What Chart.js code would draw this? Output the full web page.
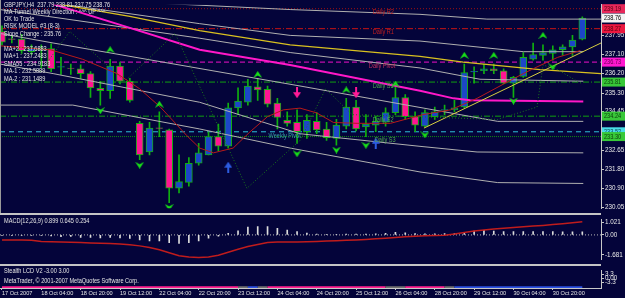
<!DOCTYPE html>
<html><head><meta charset="utf-8">
<script src="https://cdn.jsdelivr.net/npm/chart.js@4.4.1/dist/chart.umd.min.js"></script>
<style>
body{margin:0;background:#04043a;}
#wrap{position:relative;width:625px;height:298px;overflow:hidden;background:#04043a;}
#wrap canvas{position:absolute;left:0;}
.sep{position:absolute;left:0;width:601px;height:2px;background:#c4c4c4;}
.vline{position:absolute;left:0;top:0;width:1px;height:213px;background:#9a9a9a;}
</style></head><body>
<div id="wrap">
<canvas id="main" width="625" height="213" style="top:0"></canvas>
<div class="vline"></div>
<div class="sep" style="top:213px"></div>
<canvas id="macd" width="625" height="49" style="top:215px"></canvas>
<div class="sep" style="top:264px"></div>
<canvas id="lcd" width="625" height="32" style="top:266px"></canvas>
</div>
<script>
// GBPJPY H4, 60 bars
var opens  = [238.14,237.80,237.79,237.21,237.30,237.35,236.50,236.45,236.42,236.20,235.52,235.41,236.55,235.85,233.91,232.59,233.70,233.61,230.92,231.19,
              232.07,232.46,233.30,232.86,234.62,234.88,235.59,235.48,234.84,234.05,233.96,233.52,234.00,233.65,233.21,233.78,234.66,233.74,233.83,233.96,
              234.40,235.10,234.22,233.78,234.22,234.52,234.53,234.66,236.28,236.33,236.42,236.33,235.76,236.07,236.86,237.04,237.13,237.30,237.43,237.79];
var highs  = [238.40,237.92,238.01,237.52,237.52,237.57,236.95,236.64,236.60,236.29,235.85,236.86,236.73,235.98,234.00,233.96,234.44,233.65,232.46,232.33,
              232.99,233.52,233.87,234.84,235.54,235.94,235.98,235.63,235.06,234.44,234.53,234.31,234.40,233.96,234.09,235.06,234.97,234.31,234.22,234.62,
              235.63,235.23,234.44,234.53,234.66,234.75,234.97,236.64,236.51,236.64,236.64,236.42,236.07,237.17,237.61,237.52,237.48,237.52,237.96,238.81];
var lows   = [237.52,237.61,237.13,237.08,236.47,236.29,236.16,236.16,235.98,235.10,234.75,235.06,235.72,234.88,232.24,232.46,233.30,230.26,230.70,231.01,
              231.98,232.46,232.64,232.77,234.31,234.75,234.97,234.66,233.65,233.78,232.99,233.21,233.43,233.12,232.90,233.65,233.56,233.30,233.52,233.78,
              234.31,234.09,233.52,233.74,234.09,234.31,234.44,234.62,235.76,236.20,236.20,235.72,235.10,236.03,236.82,236.82,236.82,237.04,237.04,237.75];
var closes = [237.65,237.78,237.26,237.39,237.35,236.42,236.52,236.44,236.20,235.54,235.41,236.55,235.85,234.97,232.46,233.69,233.68,230.92,231.23,232.07,
              232.55,233.30,232.86,234.62,234.93,235.63,235.45,234.79,234.18,233.91,233.52,234.05,233.61,233.25,233.83,234.66,233.65,233.87,234.00,234.40,
              235.10,234.22,233.83,234.40,234.44,234.54,234.62,236.25,236.30,236.42,236.33,235.76,236.03,236.95,237.08,237.17,237.30,237.43,237.74,238.76];

var xLabels = ['17 Oct 2007','18 Oct 04:00','18 Oct 20:00','19 Oct 12:00','22 Oct 04:00','22 Oct 20:00','23 Oct 12:00','24 Oct 04:00',
               '24 Oct 20:00','25 Oct 12:00','26 Oct 04:00','28 Oct 20:00','29 Oct 12:00','30 Oct 04:00','30 Oct 20:00'];
var xLabelBars = [0,4,8,12,16,20,24,28,32,36,40,44,48,52,56];
var priceTicks = [237.95,237.10,236.20,235.30,234.45,232.65,231.80,230.90,230.05];

// pivot levels
var levelNames  = ['Daily R2','Daily R1','Daily Pivot','Daily S1','Daily S2','Weekly Pivot','Daily S3'];
var levelValues = [239.19,238.27,236.73,235.81,234.24,233.52,233.30];
var levelLabelBars = [37.7,37.7,37.3,37.7,37.7,27.1,37.9];

// tunnel / moving average lines (bar index, price)
var grayABars = [15.1,29.3,42.5,49.3,60.9];            var grayA = [239.46,239.15,238.93,238.71,238.71];
var maPlus1Bars = [-0.2,10,20.1,29.3,42.5,53,59.1];     var maPlus1 = [239.81,239.15,238.50,237.96,237.70,237.21,237.21];
var grayBBars = [-0.2,10,20.1,29.3,42.5,48.6,59.1];     var grayB = [239.15,238.49,237.83,237.17,236.46,235.94,235.85];
var sma55Bars = [-0.2,11.7,20.1,29.3,42.5,45.9,47.6,59.1]; var sma55 = [240.16,238.49,237.30,236.60,235.41,235.06,234.97,234.92];
var grayCBars = [-0.2,5.2,30.3,50.4,59.1];              var grayC = [238.05,237.61,235.63,234.00,234.00];
var maMinus1Bars = [-0.2,5.2,20.1,30.3,42.5,48.3,59.1]; var maMinus1 = [236.64,236.20,234.88,233.43,232.85,232.59,232.55];
var maMinus2Bars = [-0.2,7.2,20.1,29.3,42.5,50.4,59.1]; var maMinus2 = [234.75,234.75,233.65,232.77,231.67,231.18,231.14];
var yellowBars = [2.8,13,20.1,29.3,42.5,46.9,54.7,60.9]; var yellowMA = [239.63,238.84,238.18,237.52,236.99,236.73,236.38,236.20];
var trendBars = [42.9,60.9];                             var trendLine = [233.69,237.61];
var redMABars = [-0.2,4.9,8.2,11.7,14,16.1,18.8,20.1,21.5,23.5,25.2,27,28.6,30.3,32,33.7,36.1,39.5,42.8,45.6,48.3,51,53,54.4,56.5,58.8];
var redMA = [237.48,237.30,236.86,236.20,235.50,234.66,233.34,232.77,232.55,232.77,233.51,234.22,234.53,234.61,234.39,233.95,233.91,233.91,
             234.31,234.53,235.06,235.72,236.20,236.51,236.95,237.26];
var zigBars = [3.9,6.9,12.5,17.6,24.9,30.3,32.9,35.6,50.4,54.4,55.0,56.5,58.8];
var zigzag  = [236.29,238.14,235.85,238.05,230.92,233.12,235.50,234.31,234.09,234.66,236.60,236.38,235.76];

// signal arrows
var upMarkBars = [11,16,26,35,40,47,50,55];
var upMarkPrices = [237.30,234.79,236.16,235.45,235.72,237.04,237.04,237.96];
var downMarkBars = [10,14,17,30,34,37,43,52,56];
var downMarkPrices = [234.49,231.98,230.04,232.51,232.68,232.90,233.38,234.93,236.51];
var sellArrowBars = [30,36];  var sellArrowPrices = [235.32,235.32];
var buyArrowBars = [23,38];   var buyArrowPrices = [231.89,232.99];

// MACD panel
var macdHist = [-0.03,-0.03,-0.03,-0.03,-0.05,-0.08,-0.15,-0.12,-0.2,-0.2,-0.25,-0.2,-0.25,-0.3,-0.43,-0.5,-0.5,-0.65,-0.72,-0.65,
                -0.5,-0.27,-0.1,0.13,0.35,0.65,0.7,0.7,0.55,0.4,0.27,0.15,0.08,0.05,0.05,0.07,0.07,0.07,0.09,0.13,
                0.22,0.18,0.11,0.09,0.09,0.11,0.11,0.22,0.33,0.38,0.33,0.29,0.29,0.29,0.29,0.29,0.29,0.25,0.25,0.25];
var macdSignal = [-0.42,-0.42,-0.43,-0.45,-0.55,-0.57,-0.6,-0.62,-0.64,-0.67,-0.69,-0.72,-0.76,-0.82,-0.92,-1.05,-1.25,-1.5,-1.75,-1.86,
                  -1.89,-1.85,-1.7,-1.45,-1.2,-0.98,-0.8,-0.63,-0.6,-0.6,-0.59,-0.57,-0.55,-0.52,-0.49,-0.45,-0.42,-0.38,-0.33,-0.28,
                  -0.22,-0.16,-0.12,-0.08,-0.05,-0.02,0.08,0.2,0.32,0.42,0.5,0.56,0.62,0.68,0.74,0.8,0.87,0.94,1.02,1.1];
var macdTicks = [1.021,0,-1.681];
var macdTickText = ['1.021','0.00','-1.681'];

// Stealth LCD panel: 1 up, -1 down, 0 neutral
var lcdState = [-1,-1,-1,-1,-1,-1,-1,-1,-1,-1,-1,-1,-1,-1,-1,-1,-1,-1,-1,-1,-1,-1,-1,-1,0,1,0,-1,-1,-1,
                -1,-1,-1,-1,-1,-1,-1,-1,-1,0,0,-1,-1,-1,-1,0,1,1,1,1,1,1,1,1,1,1,1,1,1,1];
var lcdValue = -6.9;
var lcdTicks = [3.3,0,-3.3];
var lcdTickText = ['3.3','0.00','-3.3'];

var infoLines = ['GBPJPY,H4  237.79 238.81 237.75 238.76','MA Tunnel Weekly Direction : ^^^ UP ^^^','OK to Trade','RISK MODEL #3 (8-3)',
                 'Slope Change : 235.76','','MA+2 : 237.6883','MA+1 : 237.2483','SMA55 : 234.9183','MA-1 : 232.5889','MA-2 : 231.1489'];

// ---------- styling ----------
var X_MIN = -0.2, X_MAX = 60.9;
var FONT = '"Liberation Sans", Arial, sans-serif';
var axisFont = {family: FONT, size: 6};
var infoY = [5, 12.7, 19.3, 26.7, 34, 0, 49.3, 56.7, 64.3, 71, 79];
var levelStyle = [
  {line:'#a01010', dash:[1,2], text:'#c02020', box:'#e8285a', boxText:'#500010'},
  {line:'#c81414', dash:[6,2,1,2], text:'#c02020', box:'#ec1840', boxText:'#500010'},
  {line:'#f010c8', dash:[5,3], text:'#c83060', box:'#ff18d0', boxText:'#600050'},
  {line:'#10a010', dash:[6,2,1,2], text:'#50a850', box:'#38c838', boxText:'#0c400c'},
  {line:'#10a010', dash:[6,2,1,2], text:'#50a850', box:'#38c838', boxText:'#0c400c'},
  {line:'#30c0d8', dash:[5,4], text:'#38a0a8', box:'#48dce8', boxText:'#0c4050'},
  {line:'#108a10', dash:[1,1], text:'#50a850', box:'#38c838', boxText:'#0c400c'}
];

function pts(bars, vals) { return bars.map(function (b, i) { return {x: b, y: vals[i]}; }); }

// narrow text, like the terminal's small font
function say(ctx, t, x, y) {
  ctx.save(); ctx.translate(x, y); ctx.scale(0.86, 1); ctx.fillText(t, 0, 0); ctx.restore();
}

function rightAxis(min, max, ticks, fmt) {
  return {
    position: 'right', min: min, max: max,
    afterFit: function (s) { s.width = 24; },
    afterBuildTicks: function (s) { s.ticks = ticks.map(function (v) { return {value: v}; }); },
    grid: {drawOnChartArea: false, color: '#c8c8c8', tickLength: 3},
    border: {color: '#c8c8c8'},
    ticks: {color: '#e8e8e8', font: {family: FONT, size: 6.3}, padding: 1, autoSkip: false, callback: fmt}
  };
}
function hiddenX() { return {type: 'linear', min: X_MIN, max: X_MAX, offset: false, display: false}; }

function icon(w, h, draw) {
  var c = document.createElement('canvas'); c.width = w; c.height = h;
  draw(c.getContext('2d')); return c;
}
var upChevron = icon(9, 7, function (g) {
  g.fillStyle = '#18e018'; g.beginPath(); g.moveTo(4.5,0); g.lineTo(9,7); g.lineTo(4.5,4.5); g.lineTo(0,7); g.closePath(); g.fill();
});
var downChevron = icon(9, 7, function (g) {
  g.fillStyle = '#18e018'; g.beginPath(); g.moveTo(4.5,7); g.lineTo(9,0); g.lineTo(4.5,2.5); g.lineTo(0,0); g.closePath(); g.fill();
});
var sellArrow = icon(8, 11, function (g) {
  g.fillStyle = '#ff1a96'; g.fillRect(3,0,2,6); g.beginPath(); g.moveTo(0,5); g.lineTo(8,5); g.lineTo(4,11); g.closePath(); g.fill();
});
var buyArrow = icon(8, 11, function (g) {
  g.fillStyle = '#2c5ce0'; g.fillRect(3,5,2,6); g.beginPath(); g.moveTo(0,6); g.lineTo(8,6); g.lineTo(4,0); g.closePath(); g.fill();
});

function lineDs(data, color, width, dash, order) {
  return {type: 'line', data: data, borderColor: color, borderWidth: width, borderDash: dash || [],
          pointRadius: 0, tension: 0, fill: false, order: order};
}
function markDs(bars, prices, img) {
  return {type: 'scatter', data: pts(bars, prices), pointStyle: img, pointRadius: 5, order: 1};
}

// ---------- main price chart ----------
var bodyColors = closes.map(function (c, i) { return c >= opens[i] ? '#1c46c8' : '#ff1493'; });
var mainDatasets = [];
levelValues.forEach(function (v, i) {
  mainDatasets.push(lineDs([{x: X_MIN, y: v}, {x: X_MAX, y: v}], levelStyle[i].line, 1, levelStyle[i].dash, 60));
});
mainDatasets.push({type: 'bar', data: lows.map(function (l, i) { return {x: i, y: [l, highs[i]]}; }),
  backgroundColor: '#10b010', barThickness: 1, grouped: false, order: 40});
mainDatasets.push({type: 'bar', data: opens.map(function (o, i) { return {x: i, y: [o, closes[i]]}; }),
  backgroundColor: bodyColors, borderColor: '#10b010', borderWidth: 1, borderSkipped: false, barThickness: 7, grouped: false, order: 35});
mainDatasets.push(lineDs(pts(grayABars, grayA), '#b0b0b0', 1, null, 20));
mainDatasets.push(lineDs(pts(maPlus1Bars, maPlus1), '#b0b0b0', 1, null, 20));
mainDatasets.push(lineDs(pts(grayBBars, grayB), '#b0b0b0', 1, null, 20));
mainDatasets.push(lineDs(pts(grayCBars, grayC), '#b0b0b0', 1, null, 20));
mainDatasets.push(lineDs(pts(maMinus1Bars, maMinus1), '#b0b0b0', 1, null, 20));
mainDatasets.push(lineDs(pts(maMinus2Bars, maMinus2), '#b0b0b0', 1, null, 20));
mainDatasets.push(lineDs(pts(yellowBars, yellowMA), '#d8c020', 1.3, null, 18));
mainDatasets.push(lineDs(pts(sma55Bars, sma55), '#ff18c8', 2, null, 17));
mainDatasets.push(lineDs(pts(trendBars, trendLine), '#d8d040', 1, null, 16));
mainDatasets.push(lineDs(pts(zigBars, zigzag), '#1c7a1c', 1, [1,2], 15));
mainDatasets.push(lineDs(pts(redMABars, redMA), '#b81a1a', 1, null, 14));
mainDatasets.push(markDs(upMarkBars, upMarkPrices, upChevron));
mainDatasets.push(markDs(downMarkBars, downMarkPrices, downChevron));
mainDatasets.push(markDs(sellArrowBars, sellArrowPrices, sellArrow));
mainDatasets.push(markDs(buyArrowBars, buyArrowPrices, buyArrow));

var mainOverlay = {
  id: 'mainOverlay',
  afterDraw: function (chart) {
    var ctx = chart.ctx, xs = chart.scales.x, ys = chart.scales.y;
    ctx.save();
    ctx.font = '6.5px ' + FONT;
    ctx.textBaseline = 'middle';
    ctx.fillStyle = '#e4e4e4';
    infoLines.forEach(function (t, k) { if (t) say(ctx, t, 4, infoY[k]); });
    levelNames.forEach(function (name, i) {
      ctx.fillStyle = levelStyle[i].text;
      say(ctx, name, xs.getPixelForValue(levelLabelBars[i]), ys.getPixelForValue(levelValues[i]) + 4);
    });
    // price boxes on the axis
    var boxes = levelValues.map(function (v, i) { return {v: v, bg: levelStyle[i].box, fg: levelStyle[i].boxText}; });
    boxes.push({v: closes[closes.length - 1], bg: '#f4f4f4', fg: '#000000'});
    boxes.forEach(function (b) {
      var y = ys.getPixelForValue(b.v);
      ctx.fillStyle = b.bg; ctx.fillRect(602, y - 4.5, 23, 9);
      ctx.fillStyle = b.fg; say(ctx, b.v.toFixed(2), 604, y + 0.5);
    });
    ctx.restore();
  }
};

new Chart(document.getElementById('main'), {
  type: 'bar',
  data: {datasets: mainDatasets},
  options: {
    responsive: false, animation: false, events: [],
    layout: {padding: 0, autoPadding: false},
    plugins: {legend: {display: false}, tooltip: {enabled: false}},
    scales: {
      x: hiddenX(),
      y: rightAxis(230.0, 239.37, priceTicks, function (v) { return v.toFixed(2); })
    }
  },
  plugins: [mainOverlay]
});

// ---------- MACD ----------
var macdOverlay = {
  id: 'macdOverlay',
  afterDraw: function (chart) {
    var ctx = chart.ctx; ctx.save();
    ctx.font = '6.5px ' + FONT; ctx.textBaseline = 'middle'; ctx.fillStyle = '#e4e4e4';
    say(ctx, 'MACD(12,26,9) 0.899 0.645 0.254', 4, 6.7);
    ctx.restore();
  }
};
new Chart(document.getElementById('macd'), {
  type: 'bar',
  data: {datasets: [
    lineDs([{x: X_MIN, y: 0}, {x: X_MAX, y: 0}], '#b8b8b8', 1, [1,2], 30),
    {type: 'bar', data: macdHist.map(function (v, i) { return {x: i, y: v}; }), backgroundColor: '#dcdcdc',
     barThickness: 1, grouped: false, order: 20},
    lineDs(macdSignal.map(function (v, i) { return {x: i, y: v}; }), '#c01c1c', 1.5, null, 10)
  ]},
  options: {
    responsive: false, animation: false, events: [],
    layout: {padding: 0, autoPadding: false},
    plugins: {legend: {display: false}, tooltip: {enabled: false}},
    scales: {
      x: hiddenX(),
      y: rightAxis(-2.04, 1.27, macdTicks, function (v) { return macdTickText[macdTicks.indexOf(v)]; })
    }
  },
  plugins: [macdOverlay]
});

// ---------- Stealth LCD + time axis ----------
var lcdColor = function (s) { return s > 0 ? '#2c50e0' : (s < 0 ? '#ff2090' : '#707070'); };
var lcdOverlay = {
  id: 'lcdOverlay',
  afterDraw: function (chart) {
    var ctx = chart.ctx; ctx.save();
    ctx.font = '6.5px ' + FONT; ctx.textBaseline = 'middle'; ctx.fillStyle = '#e4e4e4';
    say(ctx, 'Stealth LCD V2 -3.00 3.00', 4, 5.7);
    say(ctx, 'MetaTrader, \u00a9 2001-2007 MetaQuotes Software Corp.', 4, 15.7);
    ctx.restore();
  }
};
new Chart(document.getElementById('lcd'), {
  type: 'line',
  data: {datasets: [{
    data: lcdState.map(function (s, i) { return {x: i, y: lcdValue}; }),
    borderWidth: 2, pointRadius: 0, tension: 0,
    segment: {borderColor: function (c) { return lcdColor(lcdState[c.p0DataIndex]); }}
  }]},
  options: {
    responsive: false, animation: false, events: [],
    layout: {padding: 0, autoPadding: false},
    plugins: {legend: {display: false}, tooltip: {enabled: false}},
    scales: {
      x: {
        type: 'linear', min: X_MIN, max: X_MAX, offset: false, position: 'bottom',
        afterFit: function (s) { s.height = 10; },
        afterBuildTicks: function (s) { s.ticks = xLabelBars.map(function (v) { return {value: v}; }); },
        grid: {drawOnChartArea: false, color: '#c8c8c8', tickLength: 2},
        border: {color: '#c8c8c8'},
        ticks: {color: '#e4e4e4', font: {family: FONT, size: 5.6}, padding: 0, align: 'start', maxRotation: 0, autoSkip: false,
                callback: function (v) { return xLabels[xLabelBars.indexOf(v)]; }}
      },
      y: rightAxis(-7.5, 6.2, lcdTicks, function (v) { return lcdTickText[lcdTicks.indexOf(v)]; })
    }
  },
  plugins: [lcdOverlay]
});
</script>
</body></html>
